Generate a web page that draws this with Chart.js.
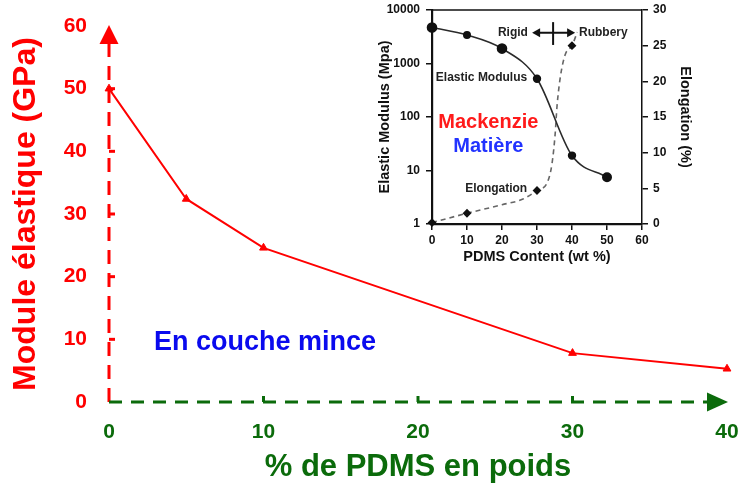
<!DOCTYPE html>
<html>
<head>
<meta charset="utf-8">
<script src="https://cdn.jsdelivr.net/npm/chart.js@4/dist/chart.umd.min.js"></script>
<style>
  html, body { margin: 0; padding: 0; background: #fff; }
  #wrap { position: relative; width: 739px; height: 488px; overflow: hidden; }
  #main { position: absolute; left: 0; top: 0; }
  #inset { position: absolute; left: 372px; top: 0; }
</style>
</head>
<body>
<div id="wrap">
  <canvas id="main" width="739" height="488"></canvas>
  <canvas id="inset" width="328" height="270"></canvas>
</div>
<script>
const FONT = '"Liberation Sans", Arial, Helvetica, sans-serif';
const RED = '#ff0000';
const GREEN = '#0b6b0b';
const BLUE = '#0a0aee';
const INK = '#111111';

// Thin-film modulus vs PDMS weight fraction
const pdmsFilm = [0, 5, 10, 30, 40];
const modulusFilm = [50, 32.4, 24.6, 7.8, 5.3];
const xTicksMain = [0, 10, 20, 30, 40];
const yTicksMain = [0, 10, 20, 30, 40, 50, 60];

// Bulk data: elastic modulus (MPa, log axis) and elongation (%)
const pdmsContent = [0, 10, 20, 30, 40, 50];
const elasticModulus = [4700, 3400, 1900, 520, 19, 7.5];
const modulusMarkerSize = [4.5, 3.2, 4.5, 3.4, 3.4, 4.2];
const elongX = [0, 10, 20, 26, 30, 33, 34.3, 35.2, 35.7, 36.7, 38.1, 40, 41.5];
const elongY = [0.2, 1.5, 2.7, 3.5, 4.7, 5.9, 8.5, 12.7, 16.4, 20.7, 23.8, 25, 26.9];
const elongMeasured = [0, 10, 30, 40];
const contentTicks = [0, 10, 20, 30, 40, 50, 60];
const modulusTicks = [1, 10, 100, 1000, 10000];
const elongTicks = [0, 5, 10, 15, 20, 25, 30];

const setTicks = list => scale => { scale.ticks = list.map(v => ({ value: v })); };
const fixWidth = w => s => { s.width = w; s.paddingTop = 0; s.paddingBottom = 0; };
const fixHeight = h => s => { s.height = h; s.paddingLeft = 0; s.paddingRight = 0; };

// Dashed axes with arrowheads, inward tick marks and the caption of the main plot
const mainDecor = {
  id: 'mainDecor',
  beforeDatasetsDraw(chart) {
    const { ctx, chartArea: a, scales: { x, y } } = chart;
    ctx.save();
    ctx.lineWidth = 3;
    ctx.lineCap = 'butt';
    ctx.setLineDash([14, 9]);
    ctx.strokeStyle = RED;
    ctx.beginPath(); ctx.moveTo(a.left, a.bottom); ctx.lineTo(a.left, a.top + 16); ctx.stroke();
    ctx.strokeStyle = GREEN;
    ctx.setLineDash([13, 9]);
    ctx.beginPath(); ctx.moveTo(a.left, a.bottom); ctx.lineTo(a.right - 18, a.bottom); ctx.stroke();
    ctx.setLineDash([]);

    ctx.strokeStyle = RED;
    yTicksMain.slice(1, -1).forEach(v => {
      const py = y.getPixelForValue(v);
      ctx.beginPath(); ctx.moveTo(a.left, py); ctx.lineTo(a.left + 6, py); ctx.stroke();
    });
    ctx.strokeStyle = GREEN;
    xTicksMain.slice(1, -1).forEach(v => {
      const px = x.getPixelForValue(v);
      ctx.beginPath(); ctx.moveTo(px, a.bottom); ctx.lineTo(px, a.bottom - 6); ctx.stroke();
    });
    ctx.fillStyle = RED;
    ctx.beginPath();
    ctx.moveTo(a.left, a.top - 1);
    ctx.lineTo(a.left - 9.5, a.top + 18);
    ctx.lineTo(a.left + 9.5, a.top + 18);
    ctx.closePath(); ctx.fill();
    ctx.fillStyle = GREEN;
    ctx.beginPath();
    ctx.moveTo(a.right + 1, a.bottom);
    ctx.lineTo(a.right - 20, a.bottom - 9.5);
    ctx.lineTo(a.right - 20, a.bottom + 9.5);
    ctx.closePath(); ctx.fill();
    ctx.restore();
  },
  afterDatasetsDraw(chart) {
    const { ctx, scales: { x, y } } = chart;
    ctx.save();
    ctx.fillStyle = BLUE;
    ctx.font = 'bold 27px ' + FONT;
    ctx.textAlign = 'center';
    ctx.textBaseline = 'middle';
    ctx.fillText('En couche mince', x.getPixelForValue(10.1), y.getPixelForValue(9.5));
    ctx.restore();
  }
};

new Chart(document.getElementById('main'), {
  type: 'line',
  data: {
    datasets: [{
      data: pdmsFilm.map((v, i) => ({ x: v, y: modulusFilm[i] })),
      borderColor: RED,
      backgroundColor: RED,
      borderWidth: 2,
      pointStyle: 'triangle',
      pointRadius: 4.5,
      pointBorderWidth: 1,
      tension: 0,
      clip: false
    }]
  },
  options: {
    responsive: false,
    animation: false,
    devicePixelRatio: 1,
    layout: { padding: { top: 26, right: 12, left: 0, bottom: 0 } },
    plugins: { legend: { display: false }, tooltip: { enabled: false } },
    scales: {
      x: {
        type: 'linear', min: 0, max: 40,
        afterBuildTicks: setTicks(xTicksMain),
        afterFit: fixHeight(86),
        grid: { display: false, drawTicks: false },
        border: { display: false },
        ticks: { color: GREEN, font: { family: FONT, size: 21, weight: 'bold' }, padding: 18, maxRotation: 0 },
        title: { display: true, text: '% de PDMS en poids', color: GREEN,
                 font: { family: FONT, size: 31, weight: 'bold' }, padding: { top: 2, bottom: 2 } }
      },
      y: {
        type: 'linear', min: 0, max: 60,
        afterBuildTicks: setTicks(yTicksMain),
        afterFit: fixWidth(109),
        grid: { display: false, drawTicks: false },
        border: { display: false },
        ticks: { color: RED, font: { family: FONT, size: 21, weight: 'bold' }, padding: 22 },
        title: { display: true, text: 'Module élastique (GPa)', color: RED,
                 font: { family: FONT, size: 32, weight: 'bold' }, padding: { top: 7, bottom: 7 } }
      }
    }
  },
  plugins: [mainDecor]
});

// Frame top, Rigid/Rubbery marker and labels of the inset
const insetDecor = {
  id: 'insetDecor',
  afterDatasetsDraw(chart) {
    const { ctx, chartArea: a, scales: { x, y2 } } = chart;
    ctx.save();
    ctx.strokeStyle = INK;
    ctx.lineWidth = 1.5;
    ctx.beginPath(); ctx.moveTo(a.left, a.top); ctx.lineTo(a.right, a.top); ctx.stroke();

    const ay = y2.getPixelForValue(26.8);
    const xl = x.getPixelForValue(28.6), xr = x.getPixelForValue(40.9), xc = x.getPixelForValue(34.6);
    ctx.lineWidth = 2;
    ctx.beginPath(); ctx.moveTo(xl + 5, ay); ctx.lineTo(xr - 5, ay); ctx.stroke();
    ctx.beginPath(); ctx.moveTo(xc, y2.getPixelForValue(28.3)); ctx.lineTo(xc, y2.getPixelForValue(25.1)); ctx.stroke();
    ctx.fillStyle = INK;
    ctx.beginPath(); ctx.moveTo(xl, ay); ctx.lineTo(xl + 8, ay - 4.5); ctx.lineTo(xl + 8, ay + 4.5); ctx.closePath(); ctx.fill();
    ctx.beginPath(); ctx.moveTo(xr, ay); ctx.lineTo(xr - 8, ay - 4.5); ctx.lineTo(xr - 8, ay + 4.5); ctx.closePath(); ctx.fill();

    ctx.textBaseline = 'middle';
    ctx.font = 'bold 12px ' + FONT;
    ctx.fillStyle = '#222';
    ctx.textAlign = 'right';
    ctx.fillText('Rigid', x.getPixelForValue(27.4), ay);
    ctx.fillText('Elastic Modulus', x.getPixelForValue(27.2), y2.getPixelForValue(20.5));
    ctx.fillText('Elongation', x.getPixelForValue(27.2), y2.getPixelForValue(4.9));
    ctx.textAlign = 'left';
    ctx.fillText('Rubbery', x.getPixelForValue(42), ay);

    ctx.textAlign = 'center';
    ctx.font = 'bold 20px ' + FONT;
    ctx.fillStyle = '#ff1a1a';
    ctx.fillText('Mackenzie', x.getPixelForValue(16.1), y2.getPixelForValue(14.2));
    ctx.fillStyle = '#2233ff';
    ctx.fillText('Matière', x.getPixelForValue(16.1), y2.getPixelForValue(10.9));
    ctx.restore();
  }
};

const tickFont = { family: FONT, size: 12, weight: 'bold' };
const titleFont = { family: FONT, size: 14.5, weight: 'bold' };

new Chart(document.getElementById('inset'), {
  type: 'line',
  data: {
    datasets: [
      {
        data: pdmsContent.map((v, i) => ({ x: v, y: elasticModulus[i] })),
        yAxisID: 'y',
        borderColor: '#2a2a2a',
        borderWidth: 1.6,
        pointRadius: modulusMarkerSize,
        pointBackgroundColor: INK,
        pointBorderColor: INK,
        cubicInterpolationMode: 'monotone',
        clip: false
      },
      {
        data: elongX.map((v, i) => ({ x: v, y: elongY[i] })),
        yAxisID: 'y2',
        borderColor: '#666666',
        borderWidth: 1.6,
        borderDash: [5, 4],
        pointStyle: 'rectRot',
        pointRadius: elongX.map(v => elongMeasured.includes(v) ? 3.3 : 0),
        pointBackgroundColor: INK,
        pointBorderColor: INK,
        cubicInterpolationMode: 'monotone',
        clip: false
      }
    ]
  },
  options: {
    responsive: false,
    animation: false,
    devicePixelRatio: 1,
    layout: { padding: { top: 10, right: 0, left: 0, bottom: 0 } },
    plugins: { legend: { display: false }, tooltip: { enabled: false } },
    scales: {
      x: {
        type: 'linear', min: 0, max: 60,
        afterBuildTicks: setTicks(contentTicks),
        afterFit: fixHeight(46),
        grid: { display: true, drawOnChartArea: false, drawTicks: true, tickLength: 6, color: INK, lineWidth: 1.5 },
        border: { display: true, color: INK, width: 2.2 },
        ticks: { color: INK, font: tickFont, padding: 3, maxRotation: 0 },
        title: { display: true, text: 'PDMS Content (wt %)', color: INK, font: titleFont, padding: { top: 4, bottom: 4 } }
      },
      y: {
        type: 'logarithmic', position: 'left', min: 1, max: 10000,
        afterBuildTicks: setTicks(modulusTicks),
        afterFit: fixWidth(60),
        grid: { display: true, drawOnChartArea: false, drawTicks: true, tickLength: 6, color: INK, lineWidth: 1.5 },
        border: { display: true, color: INK, width: 2.2 },
        ticks: { color: INK, font: tickFont, padding: 6, callback: v => String(v) },
        title: { display: true, text: 'Elastic Modulus (Mpa)', color: INK, font: titleFont, padding: { top: 4, bottom: 4 } }
      },
      y2: {
        type: 'linear', position: 'right', min: 0, max: 30,
        afterBuildTicks: setTicks(elongTicks),
        afterFit: fixWidth(58),
        grid: { display: true, drawOnChartArea: false, drawTicks: true, tickLength: 6, color: INK, lineWidth: 1.5 },
        border: { display: true, color: INK, width: 1.5 },
        ticks: { color: INK, font: tickFont, padding: 5 },
        title: { display: true, text: 'Elongation (%)', color: INK, font: titleFont, padding: { top: 6, bottom: 6 } }
      }
    }
  },
  plugins: [insetDecor]
});
</script>
</body>
</html>
